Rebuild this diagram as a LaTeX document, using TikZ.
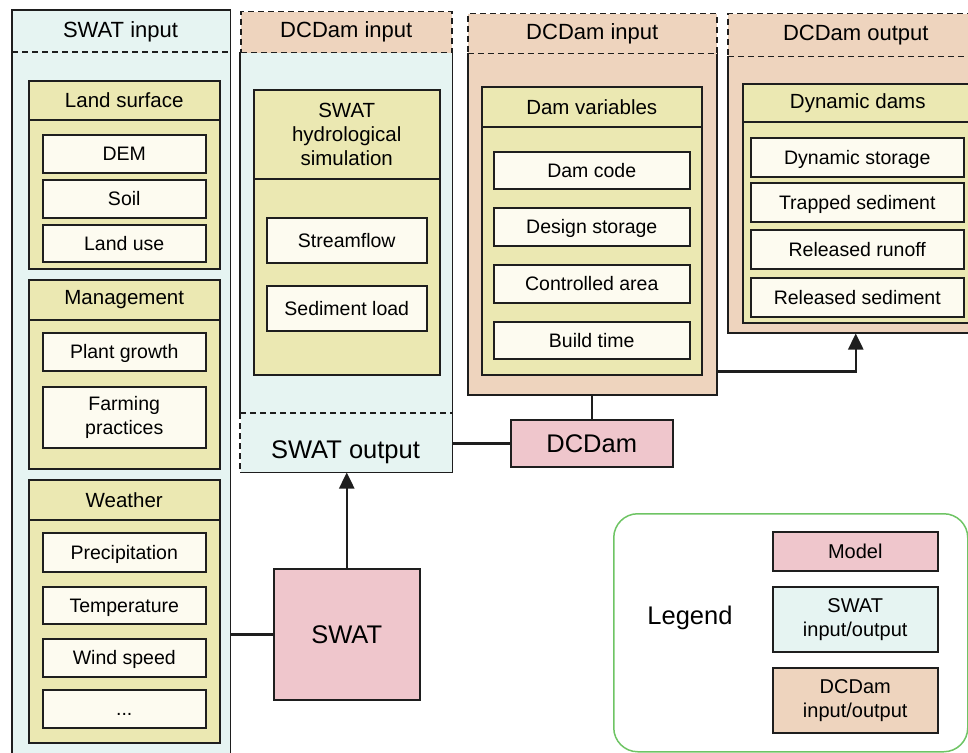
\documentclass[tikz,border=0pt]{standalone}
\usepackage{fontspec}
\setmainfont{Liberation Sans}
\usepackage{xcolor}
\usetikzlibrary{arrows.meta,positioning}
\definecolor{swatbg}{RGB}{230,244,242}
\definecolor{dambg}{RGB}{238,212,190}
\definecolor{groupbg}{RGB}{235,232,178}
\definecolor{itembg}{RGB}{253,251,240}
\definecolor{modelbg}{RGB}{239,198,204}
\definecolor{legendline}{RGB}{110,196,100}
\definecolor{frameline}{RGB}{30,30,30}
\tikzset{
    boxbase/.style={anchor=north west, inner sep=0pt, line width=1.5pt, draw=frameline},
    swatcol/.style={boxbase, fill=swatbg},
    damcol/.style={boxbase, fill=dambg},
    damhead/.style={damcol, dash pattern=on 6pt off 4pt, font=\fontsize{22}{26}\selectfont},
    grouphead/.style={boxbase, fill=groupbg, align=center, font=\fontsize{20.5}{24}\selectfont},
    groupbody/.style={boxbase, fill=groupbg},
    itembox/.style={boxbase, fill=itembg, align=center, text height=14pt, text depth=0pt, font=\fontsize{19.5}{24.5}\selectfont},
    modelbox/.style={boxbase, fill=modelbg, font=\fontsize{25.5}{30}\selectfont},
    keybox/.style={boxbase, minimum width=165pt, align=center, font=\fontsize{20}{24}\selectfont},
    coltitle/.style={font=\fontsize{22}{26}\selectfont},
    bigtext/.style={font=\fontsize{25.5}{30}\selectfont},
    sepline/.style={frameline, line width=1.5pt, dash pattern=on 6pt off 4pt},
    link/.style={frameline, line width=2.5pt},
    linkarrow/.style={link, -{Triangle[length=16pt,width=15pt]}}
}

\begin{document}
\begin{tikzpicture}[x=1pt, y=-1pt]
    \useasboundingbox (0,0) rectangle (968,752);
    \node[swatcol, draw=none, minimum width=217pt, minimum height=742pt] (swatin) at (12,10) {};
    \draw[frameline, line width=1.5pt] (swatin.south west) |- (swatin.north east) -- (swatin.south east);
    \node[coltitle] (swatintitle) at (120.5,32) {SWAT input};
    \coordinate (swatinsep) at (0,52);
    \draw[sepline] (swatin.west |- swatinsep) -- (swatin.east |- swatinsep);

    \node[grouphead, minimum width=191pt, minimum height=39pt] (landhead) at (28,80) {Land surface};
    \node[groupbody, minimum width=191pt, minimum height=149pt] (landbody) at (28,119) {};
    \node[itembox, minimum width=163pt, minimum height=38pt] (dem) at (42,134) {DEM};
    \node[itembox, minimum width=163pt, minimum height=38pt] (soil) at (42,179) {Soil};
    \node[itembox, minimum width=163pt, minimum height=37pt] (landuse) at (42,224) {Land use};

    \node[grouphead, minimum width=191pt, minimum height=40pt] (mgmthead) at (28,279) {Management};
    \node[groupbody, minimum width=191pt, minimum height=149pt] (mgmtbody) at (28,319) {};
    \node[itembox, minimum width=163pt, minimum height=38pt] (plant) at (42,332) {Plant growth};
    \node[itembox, text height=, text depth=, minimum width=163pt, minimum height=61pt] (farming) at (42,386) {Farming\\practices};

    \node[grouphead, minimum width=191pt, minimum height=40pt] (weatherhead) at (28,479) {Weather};
    \node[groupbody, minimum width=191pt, minimum height=223pt] (weatherbody) at (28,519) {};
    \node[itembox, minimum width=163pt, minimum height=39pt] (precip) at (42,532) {Precipitation};
    \node[itembox, minimum width=163pt, minimum height=37pt] (temp) at (42,586) {Temperature};
    \node[itembox, minimum width=163pt, minimum height=38pt] (wind) at (42,638) {Wind speed};
    \node[itembox, minimum width=163pt, minimum height=38pt] (more) at (42,689) {...};

    \node[swatcol, draw=none, minimum width=211pt, minimum height=419pt] (hydrocol) at (240,52) {};
    \node[damhead, minimum width=211pt, minimum height=41pt] (hydrohead) at (240,11) {DCDam input};
    \node[boxbase, draw=none, minimum width=211pt, minimum height=58pt] (swatout) at (240,413) {};
    \draw[frameline, line width=1.5pt] (hydrocol.north west) -- (swatout.north west);
    \draw[sepline] (swatout.north west) -- (swatout.south west);
    \draw[frameline, line width=1.5pt] (swatout.south west) -- (swatout.south east) -- (hydrocol.north east);
    \draw[sepline] (swatout.north west) -- (swatout.north east);
    \node[bigtext, anchor=base] (swatoutlabel) at (345.5,458) {SWAT output};

    \node[grouphead, minimum width=186pt, minimum height=89pt] (simhead) at (253,89) {SWAT\\hydrological\\simulation};
    \node[groupbody, minimum width=186pt, minimum height=196pt] (simbody) at (253,178) {};
    \node[itembox, minimum width=160pt, minimum height=45pt] (streamflow) at (266,217) {Streamflow};
    \node[itembox, minimum width=160pt, minimum height=45pt] (sedload) at (266,285) {Sediment load};

    \node[damcol, minimum width=249pt, minimum height=341pt] (damin) at (467,53) {};
    \node[damhead, minimum width=249pt, minimum height=40pt] (daminhead) at (467,13) {DCDam input};
    \node[grouphead, minimum width=220pt, minimum height=40pt] (varhead) at (481,86) {Dam variables};
    \node[groupbody, minimum width=220pt, minimum height=248pt] (varbody) at (481,126) {};
    \node[itembox, minimum width=196pt, minimum height=37pt] (damcode) at (493,151) {Dam code};
    \node[itembox, minimum width=196pt, minimum height=38pt] (design) at (493,207) {Design storage};
    \node[itembox, minimum width=196pt, minimum height=38pt] (area) at (493,264) {Controlled area};
    \node[itembox, minimum width=196pt, minimum height=37pt] (build) at (493,321) {Build time};

    \node[damcol, minimum width=256pt, minimum height=276pt] (damout) at (727,56) {};
    \node[damhead, minimum width=256pt, minimum height=43pt] (damouthead) at (727,13) {DCDam output};
    \node[grouphead, minimum width=230pt, minimum height=38pt] (dynhead) at (742,83) {Dynamic dams};
    \node[groupbody, minimum width=230pt, minimum height=201pt] (dynbody) at (742,121) {};
    \node[itembox, minimum width=213pt, minimum height=39pt] (dynstore) at (750,137) {Dynamic storage};
    \node[itembox, minimum width=213pt, minimum height=39pt] (trapped) at (750,182) {Trapped sediment};
    \node[itembox, minimum width=213pt, minimum height=39pt] (runoff) at (750,229) {Released runoff};
    \node[itembox, minimum width=213pt, minimum height=39pt] (relsed) at (750,277) {Released sediment};

    \node[modelbox, minimum width=146pt, minimum height=131pt] (swat) at (273,568) {SWAT};
    \node[modelbox, minimum width=162pt, minimum height=47pt] (dcdam) at (510,419) {DCDam};

    \draw[link] (swatin.east |- swat.west) -- (swat.west);
    \draw[linkarrow] (swat.north) -- (swat.north |- swatout.south);
    \draw[link] (dcdam.west) -- (dcdam.west -| swatout.east);
    \draw[link] (dcdam.north) -- (dcdam.north |- damin.south);
    \draw[linkarrow] ([yshift=24pt]damin.south east) -| (damout.south);

    \node[boxbase, draw=legendline, rounded corners=24pt, minimum width=354pt, minimum height=238pt] (legend) at (613,513) {};
    \node[bigtext] (legendtitle) at (690,618) {Legend};
    \node[keybox, fill=modelbg, minimum height=39pt] (keymodel) at (772,531) {Model};
    \node[keybox, fill=swatbg, minimum height=65pt] (keyswat) at (772,586) {SWAT\\input/output};
    \node[keybox, fill=dambg, minimum height=65pt] (keydam) at (772,667) {DCDam\\input/output};
\end{tikzpicture}
\end{document}
